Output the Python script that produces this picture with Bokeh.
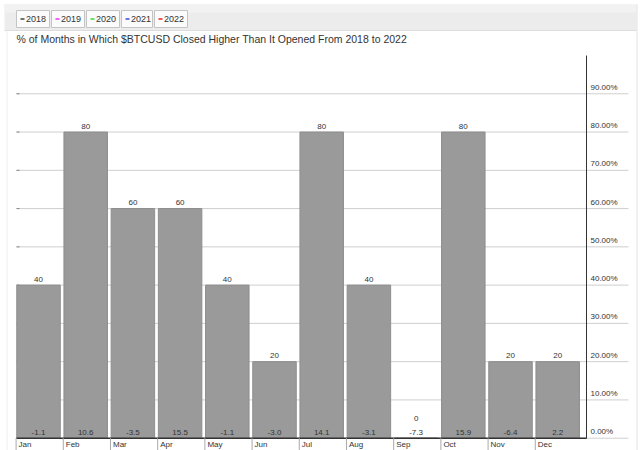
import numpy as np
from bokeh.plotting import figure
from bokeh.core.properties import value
from bokeh.embed import file_html
from bokeh.resources import INLINE

# ---- data ----
months = ["Jan", "Feb", "Mar", "Apr", "May", "Jun", "Jul", "Aug", "Sep", "Oct", "Nov", "Dec"]
pct_up = [40, 80, 60, 60, 40, 20, 80, 40, 0, 80, 20, 20]
avg_ret = [-1.1, 10.6, -3.5, 15.5, -1.1, -3.0, 14.1, -3.1, -7.3, 15.9, -6.4, 2.2]
y_ticks = [0, 10, 20, 30, 40, 50, 60, 70, 80, 90]
y_tick_labels = [f"{t:.2f}%" for t in y_ticks]
years = ["2018", "2019", "2020", "2021", "2022"]
year_colors = ["#444444", "#ee33ee", "#33dd33", "#4444dd", "#ee2222"]
title_text = "% of Months in Which $BTCUSD Closed Higher Than It Opened From 2018 to 2022"

# ---- layout helpers (reference pixel -> data) ----
X0, XU = 38.0, 47.2
Y0, YU = 437.7, 3.827
W, H = 640, 450
OX, OY = 0, 0
fx = lambda px: (px - X0) / XU
fy = lambda py: (Y0 - py) / YU
FONT = value("Liberation Sans")

idx = np.arange(len(months))

p = figure(width=W, height=H, x_range=(fx(OX), fx(OX + W)), y_range=(fy(OY + H), fy(OY)),
           x_axis_type=None, y_axis_type=None, output_backend="svg",
           toolbar_location=None, min_border=0, title=None)
p.outline_line_color = None
p.background_fill_color = "white"
p.border_fill_color = "white"

# frame: top band and faint borders
p.quad(left=fx(4), right=fx(636), top=fy(4), bottom=fy(30), fill_color="#ececec", line_color=None)
p.quad(left=fx(4), right=fx(636), top=fy(4), bottom=fy(12), fill_color="#f2f2f2", line_color=None)
p.segment(x0=fx(4), x1=fx(636), y0=fy(30), y1=fy(30), line_color="#dddddd", line_width=1)
p.segment(x0=fx(636.5), x1=fx(636.5), y0=fy(4), y1=fy(450), line_color="#e2e2e2", line_width=1)
p.segment(x0=fx(6.5), x1=fx(6.5), y0=fy(30), y1=fy(450), line_color="#eeeeee", line_width=1)

# legend buttons
bx0 = [16, 51, 86, 121, 154]
bx1 = [49, 84, 119, 152, 187]
p.quad(left=[fx(b) for b in bx0], right=[fx(b) for b in bx1], top=fy(10), bottom=fy(27),
       fill_color="#fbfbfb", line_color="#c4c4c4")
p.segment(x0=[fx(b + 4) for b in bx0], x1=[fx(b + 8) for b in bx0], y0=fy(18.5), y1=fy(18.5),
          line_color=year_colors, line_width=1.5)
p.text(x=[fx(b + 9.5) for b in bx0], y=fy(18.5), text=years, text_font=FONT,
       text_font_size=value("9px"), text_color="#333333", text_baseline="middle", text_align="left")

# title
p.text(x=[fx(16)], y=[fy(38)], text=[title_text], text_font=FONT, text_font_size=value("10.5px"),
       text_color="#333333", text_baseline="middle", text_align="left")

# gridlines
p.segment(x0=fx(16), x1=fx(628), y0=y_ticks, y1=y_ticks, line_color="#cfcfcf", line_width=1)
p.segment(x0=fx(16), x1=fx(19), y0=y_ticks, y1=y_ticks, line_color="#888888", line_width=1)

# bars
p.vbar(x=idx, width=43.5 / XU, top=pct_up, bottom=0, fill_color="#9a9a9a", line_color="#8e8e8e")

# axes lines
p.segment(x0=fx(16), x1=fx(586), y0=0, y1=0, line_color="#333333", line_width=1.5)
p.segment(x0=fx(586), x1=fx(586), y0=fy(438), y1=fy(55), line_color="#333333", line_width=1)

# month ticks + labels
tick_x = idx - 0.475
p.segment(x0=tick_x, x1=tick_x, y0=0, y1=fy(450), line_color="#aaaaaa", line_width=1)
p.text(x=tick_x + 2.5 / XU, y=fy(444), text=months, text_font=FONT, text_font_size=value("8px"),
       text_color="#333333", text_baseline="middle", text_align="left")

# right value labels
p.text(x=fx(590), y=np.array(y_ticks) + 6.4 / YU, text=y_tick_labels, text_font=FONT,
       text_font_size=value("8px"), text_color="#333333", text_baseline="middle", text_align="left")

# bar labels
top_y = np.maximum(pct_up, 3.5) + 6.0 / YU
p.text(x=idx, y=top_y, text=[str(v) for v in pct_up], text_font=FONT, text_font_size=value("8px"),
       text_color="#333333", text_baseline="middle", text_align="center")
p.text(x=idx, y=fy(432), text=[f"{v:.1f}" for v in avg_ret], text_font=FONT,
       text_font_size=value("8px"), text_color="#333333", text_baseline="middle", text_align="center")

open("out.html", "w").write(file_html(p, INLINE))
